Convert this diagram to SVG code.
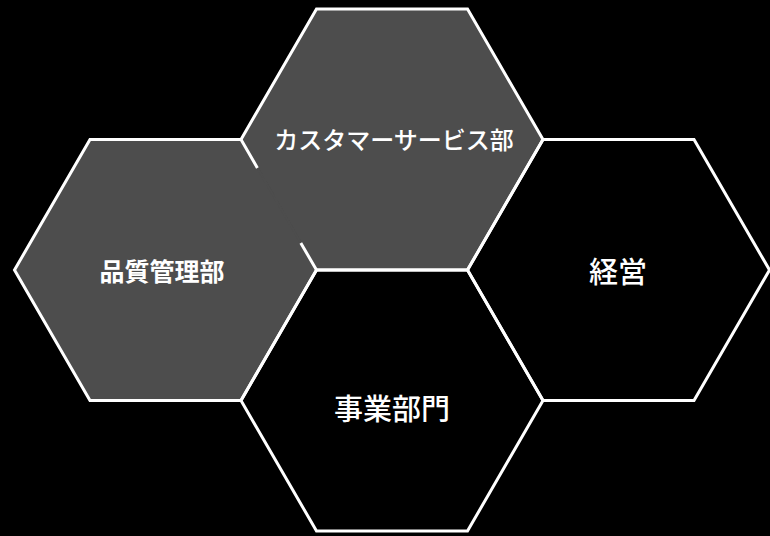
<svg xmlns="http://www.w3.org/2000/svg" width="770" height="536" viewBox="0 0 770 536">
<style>
.bg{fill:#000000}
.gray{fill:#4d4d4d;stroke:#4d4d4d;stroke-width:2;stroke-linejoin:round}
.dark{fill:#000000;stroke:none}
.edge{fill:none;stroke:#ffffff;stroke-width:3;stroke-linejoin:miter}
.lbl{fill:#ffffff;font-family:"Noto Sans CJK JP","Noto Sans",sans-serif;text-anchor:middle;dominant-baseline:central}
</style>
<rect class="bg" x="0" y="0" width="770" height="536"/>
<g id="node-customer">
<polygon class="gray" points="241,139.5 316.5,9 467.5,9 543,139.5 467.5,270 316.5,270"/>
</g>
<g id="node-quality">
<polygon class="gray" points="14.5,270 90,139.5 241,139.5 316.5,270 241,400.5 90,400.5"/>
</g>
<g id="node-management">
<polygon class="dark" points="467.5,270 543,139.5 694,139.5 769.5,270 694,400.5 543,400.5"/>
</g>
<g id="node-business">
<polygon class="dark" points="241,400.5 316.5,270 467.5,270 543,400.5 467.5,531 316.5,531"/>
</g>
<g id="edges">
<path class="edge" d="M241,139.5 L316.5,9 L467.5,9 L543,139.5 L467.5,270 L316.5,270"/>
<path class="edge" d="M241,139.5 L257.4,168 M300.8,243 L316.5,270"/>
<path class="edge" d="M316.5,270 L241,400.5 L90,400.5 L14.5,270 L90,139.5 L241,139.5"/>
<path class="edge" d="M467.5,270 L543,139.5 L694,139.5 L769.5,270 L694,400.5 L543,400.5 L467.5,270"/>
<path class="edge" d="M241,400.5 L316.5,270 L467.5,270 L543,400.5 L467.5,531 L316.5,531 Z"/>
</g>
<g id="labels">
<text class="lbl" x="394" y="138" font-size="24" font-weight="500">カスタマーサービス部</text>
<text class="lbl" x="162" y="270" font-size="25" font-weight="700">品質管理部</text>
<text class="lbl" x="618" y="270" font-size="29" font-weight="500">経営</text>
<text class="lbl" x="392" y="407" font-size="29" font-weight="500">事業部門</text>
</g>
</svg>
